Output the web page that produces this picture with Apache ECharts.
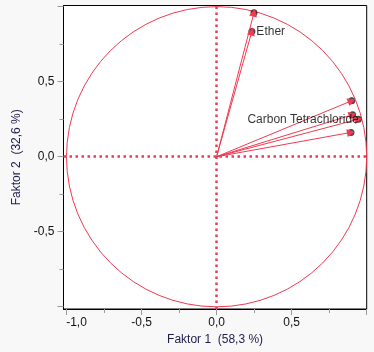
<!DOCTYPE html>
<html>
<head>
<meta charset="utf-8">
<script src="https://cdn.jsdelivr.net/npm/echarts@6/dist/echarts.min.js"></script>
<style>
  html, body { margin: 0; padding: 0; background: #f8f8f8; }
  #chart { width: 374px; height: 352px; }
</style>
</head>
<body>
<div id="chart"></div>
<script>
// factor loadings
const names = ['', 'Ether', '', '', 'Carbon Tetrachloride', ''];
const faktor1 = [0.249, 0.235, 0.900, 0.906, 0.944, 0.895];
const faktor2 = [0.960, 0.835, 0.373, 0.280, 0.250, 0.162];

const majorTicks = [-1, -0.5, 0, 0.5, 1];
const minorTicks = [-0.75, -0.25, 0.25, 0.75];
const xLabels = [-1, -0.5, 0, 0.5];
const yLabels = [-0.5, 0, 0.5];
const circleRadius = 1;

const red = '#f03a52';
const font = 'Liberation Sans, Arial, sans-serif';

var chart = echarts.init(document.getElementById('chart'));

function fmt(v) {
    return v.toFixed(1).replace('.', ',');
}

const xRange = { min: -1.02, max: 1.0 };
const yRange = { min: -1.015, max: 1.008 };

const tickStyle = { lineStyle: { color: '#9a9a9a', width: 1 } };

var option = {
    animation: false,
    backgroundColor: '#f8f8f8',
    grid: {
        left: 63.5, top: 5.5, right: 7.3, bottom: 43,
        show: true, backgroundColor: '#fff', borderColor: '#000', borderWidth: 1
    },
    xAxis: [
        {
            type: 'value', position: 'bottom', ...xRange,
            name: 'Faktor 1  (58,3 %)', nameLocation: 'middle', nameGap: 24,
            nameTextStyle: { color: '#1e1e4e', fontSize: 12, fontFamily: font },
            axisLine: { show: true, onZero: false, lineStyle: { color: '#000' } },
            splitLine: { show: false },
            axisTick: { show: true, length: 6, customValues: majorTicks, ...tickStyle },
            axisLabel: {
                customValues: xLabels, margin: 8, color: '#111', fontSize: 12, fontFamily: font,
                formatter: function (v) { return v === -1 ? '{l|' + fmt(v) + '}' : fmt(v); },
                rich: { l: { padding: [0, 0, 0, 20], color: '#111', fontSize: 12, fontFamily: font } }
            }
        },
        {
            type: 'value', position: 'bottom', ...xRange,
            axisLine: { show: false, onZero: false }, splitLine: { show: false }, axisLabel: { show: false },
            axisTick: { show: true, length: 4, customValues: minorTicks, ...tickStyle }
        }
    ],
    yAxis: [
        {
            type: 'value', position: 'left', ...yRange,
            name: 'Faktor 2  (32,6 %)', nameLocation: 'middle', nameGap: 40,
            nameTextStyle: { color: '#1e1e4e', fontSize: 12, fontFamily: font },
            axisLine: { show: true, onZero: false, lineStyle: { color: '#000' } },
            splitLine: { show: false },
            axisTick: { show: true, length: 6, customValues: majorTicks, ...tickStyle },
            axisLabel: {
                customValues: yLabels, margin: 9, color: '#111', fontSize: 12, fontFamily: font,
                formatter: fmt
            }
        },
        {
            type: 'value', position: 'left', ...yRange,
            axisLine: { show: false, onZero: false }, splitLine: { show: false }, axisLabel: { show: false },
            axisTick: { show: true, length: 4, customValues: minorTicks, ...tickStyle }
        }
    ],
    series: [
        {
            type: 'custom',
            silent: true,
            data: [[0, 0]],
            renderItem: function (params, api) {
                const c = api.coord([0, 0]);
                const r = api.size([circleRadius, 0])[0];
                return {
                    type: 'circle',
                    shape: { cx: c[0], cy: c[1], r: r },
                    style: { fill: 'none', stroke: red, lineWidth: 1 }
                };
            }
        },
        {
            type: 'scatter',
            symbolSize: 7,
            itemStyle: { color: '#1a1a1a' },
            z: 3,
            data: faktor1.map((x, i) => [x, faktor2[i]]),
            markLine: {
                silent: true,
                symbol: 'none',
                label: { show: false },
                lineStyle: { color: red, width: 2.5, type: [2.5, 3.5] },
                data: [{ xAxis: 0 }, { yAxis: 0 }]
            }
        },
        {
            type: 'lines',
            coordinateSystem: 'cartesian2d',
            silent: true,
            z: 4,
            symbol: ['none', 'triangle'],
            symbolSize: [0, 8],
            lineStyle: { color: red, width: 1, opacity: 1 },
            data: faktor1.map((x, i) => ({ coords: [[0, 0], [x, faktor2[i]]] }))
        },
        {
            // labels on top of the arrows
            type: 'scatter',
            symbolSize: 7,
            itemStyle: { color: 'rgba(0,0,0,0)' },
            silent: true,
            z: 6,
            data: faktor1.map((x, i) => ({
                value: [x, faktor2[i]],
                name: names[i],
                label: names[i] === 'Ether'
                    ? { show: true, position: 'right', distance: 1 }
                    : names[i] ? { show: true, position: 'left', distance: -4 } : { show: false }
            })),
            label: {
                formatter: '{b}', color: '#000', fontSize: 12, fontFamily: font
            }
        }
    ]
};

option && chart.setOption(option);
</script>
</body>
</html>
